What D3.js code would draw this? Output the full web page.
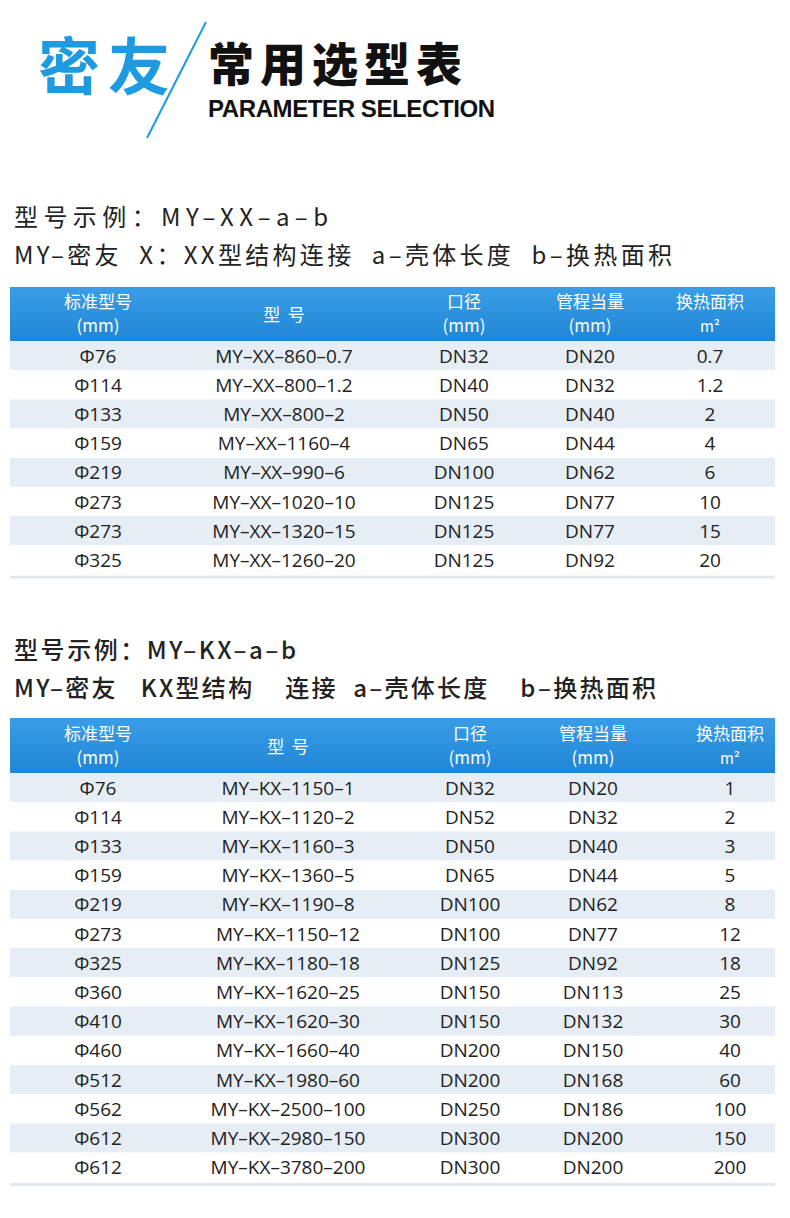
<!DOCTYPE html>
<html><head><meta charset="utf-8">
<script src="https://cdn.jsdelivr.net/npm/d3@7"></script>
<style>body{margin:0;background:#fff}svg{display:block}</style>
</head><body>
<svg id="c" width="790" height="1218"></svg>
<script>
// Column headers
const headers = [['标准型号', '(mm)'], ['型  号'], ['口径', '(mm)'], ['管程当量', '(mm)'], ['换热面积', 'm²']];

// Table 1 (XX)
const diaXX = ['Φ76', 'Φ114', 'Φ133', 'Φ159', 'Φ219', 'Φ273', 'Φ273', 'Φ325'];
const modelXX = ['MY-XX-860-0.7', 'MY-XX-800-1.2', 'MY-XX-800-2', 'MY-XX-1160-4', 'MY-XX-990-6', 'MY-XX-1020-10', 'MY-XX-1320-15', 'MY-XX-1260-20'];
const portXX = ['DN32', 'DN40', 'DN50', 'DN65', 'DN100', 'DN125', 'DN125', 'DN125'];
const tubeXX = ['DN20', 'DN32', 'DN40', 'DN44', 'DN62', 'DN77', 'DN77', 'DN92'];
const areaXX = ['0.7', '1.2', '2', '4', '6', '10', '15', '20'];

// Table 2 (KX)
const diaKX = ['Φ76', 'Φ114', 'Φ133', 'Φ159', 'Φ219', 'Φ273', 'Φ325', 'Φ360', 'Φ410', 'Φ460', 'Φ512', 'Φ562', 'Φ612', 'Φ612'];
const modelKX = ['MY-KX-1150-1', 'MY-KX-1120-2', 'MY-KX-1160-3', 'MY-KX-1360-5', 'MY-KX-1190-8', 'MY-KX-1150-12', 'MY-KX-1180-18', 'MY-KX-1620-25', 'MY-KX-1620-30', 'MY-KX-1660-40', 'MY-KX-1980-60', 'MY-KX-2500-100', 'MY-KX-2980-150', 'MY-KX-3780-200'];
const portKX = ['DN32', 'DN52', 'DN50', 'DN65', 'DN100', 'DN100', 'DN125', 'DN150', 'DN150', 'DN200', 'DN200', 'DN250', 'DN300', 'DN300'];
const tubeKX = ['DN20', 'DN32', 'DN40', 'DN44', 'DN62', 'DN77', 'DN92', 'DN113', 'DN132', 'DN150', 'DN168', 'DN186', 'DN200', 'DN200'];
const areaKX = ['1', '2', '3', '5', '8', '12', '18', '25', '30', '40', '60', '100', '150', '200'];

const svg = d3.select('#c');
const cjk = '"Noto Sans CJK SC", sans-serif';
const dash = s => s.replace(/-/g, '–');

const defs = svg.append('defs');
const g = defs.append('linearGradient').attr('id', 'hg').attr('x1', 0).attr('y1', 0).attr('x2', 0).attr('y2', 1);
g.append('stop').attr('offset', 0).attr('stop-color', '#3a9de6');
g.append('stop').attr('offset', 1).attr('stop-color', '#1f86d6');

// Title block
svg.append('text').attr('x', 38).attr('y', 90).attr('font-family', cjk).attr('font-weight', 700)
  .attr('font-size', 62).attr('fill', '#1e9be0').attr('textLength', 132).text('密友');
svg.append('line').attr('x1', 206).attr('y1', 22).attr('x2', 147).attr('y2', 138)
  .attr('stroke', '#1e9be0').attr('stroke-width', 2);
svg.append('text').attr('x', 208).attr('y', 81).attr('font-family', cjk).attr('font-weight', 900)
  .attr('font-size', 46).attr('fill', '#111').attr('textLength', 254).text('常用选型表');
svg.append('text').attr('x', 208).attr('y', 117).attr('font-family', 'Liberation Sans, Arial').attr('font-weight', 700)
  .attr('font-size', 24).attr('fill', '#111').attr('textLength', 287).text('PARAMETER SELECTION');

function intro(y1, t1, l1, y2, t2, l2, w) {
  svg.append('text').attr('x', 14).attr('y', y1).attr('font-family', cjk).attr('font-size', 24)
    .attr('font-weight', w).attr('fill', '#222').attr('textLength', l1).text(dash(t1));
  svg.append('text').attr('x', 14).attr('y', y2).attr('font-family', cjk).attr('font-size', 24)
    .attr('font-weight', w).attr('fill', '#222').attr('xml:space', 'preserve').attr('textLength', l2).text(dash(t2));
}

function table(top, headH, rowH, cols, centers, areaX) {
  const n = cols[0].length;
  const y = d3.scaleBand().domain(d3.range(n)).range([top + headH, top + headH + n * rowH]);
  svg.append('rect').attr('x', 10).attr('y', top).attr('width', 765).attr('height', headH).attr('fill', 'url(#hg)');
  headers.forEach((h, i) => {
    const cx = i === 4 ? areaX : centers[i];
    const t = svg.append('text').attr('text-anchor', 'middle').attr('font-family', cjk)
      .attr('font-size', 17).attr('fill', '#fff');
    if (h.length === 1) {
      t.attr('x', cx).attr('y', top + headH / 2 + 7).attr('xml:space', 'preserve').text(h[0]);
    } else {
      t.append('tspan').attr('x', cx).attr('y', top + headH / 2 - 6).text(h[0]);
      t.append('tspan').attr('x', cx).attr('y', top + headH / 2 + 18).attr('font-size', h[1] === 'm²' ? 15 : 17).text(h[1]);
    }
  });
  svg.selectAll(null).data(d3.range(n)).join('rect')
    .attr('x', 10).attr('width', 765).attr('y', i => y(i)).attr('height', y.bandwidth())
    .attr('fill', i => i % 2 === 0 ? '#e6edf4' : '#fff');
  svg.append('rect').attr('x', 10).attr('width', 765).attr('y', y.range()[1] + 1).attr('height', 3).attr('fill', '#e3e8ee');
  cols.forEach((col, c) => {
    const cx = c === 4 ? areaX : centers[c];
    svg.selectAll(null).data(col).join('text')
      .attr('x', cx).attr('y', (d, i) => y(i) + y.bandwidth() / 2 + 7)
      .attr('text-anchor', 'middle').attr('font-family', '"Open Sans", Roboto, sans-serif')
      .attr('font-size', 19).attr('fill', '#222').text(d => dash(d));
  });
}

intro(226, '型号示例：MY-XX-a-b', 314, 264, 'MY-密友  X：XX型结构连接  a-壳体长度  b-换热面积', 658, 400);
table(287, 54, 29.2, [diaXX, modelXX, portXX, tubeXX, areaXX], [98, 284, 464, 590], 710);

intro(659, '型号示例：MY-KX-a-b', 282, 697, 'MY-密友   KX型结构    连接  a-壳体长度    b-换热面积', 642, 500);
table(718, 55, 29.2, [diaKX, modelKX, portKX, tubeKX, areaKX], [98, 288, 470, 593], 730);
</script>
</body></html>
